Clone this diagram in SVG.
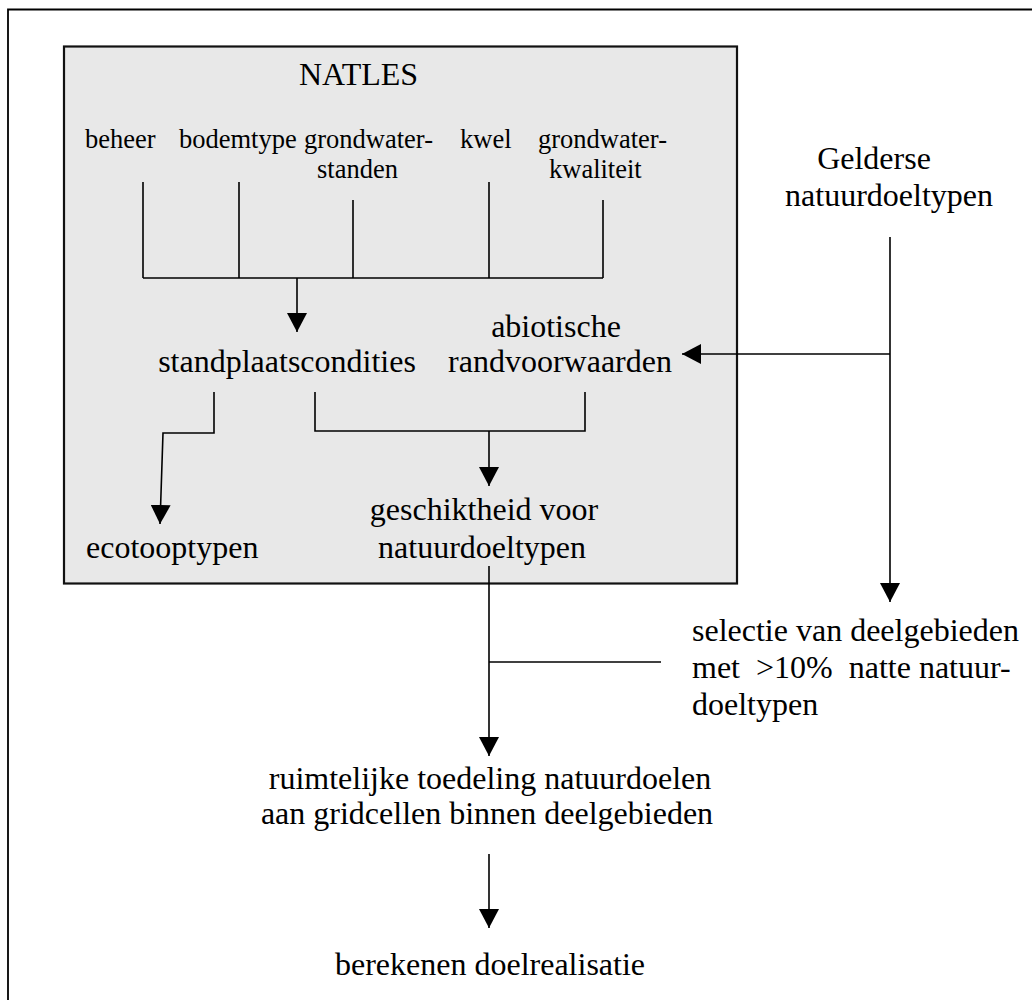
<svg xmlns="http://www.w3.org/2000/svg" width="1032" height="1000" viewBox="0 0 1032 1000">
<style>
text{font-family:"Liberation Serif","Times New Roman",serif;fill:#000;}
.big{font-size:32px;}
.sm{font-size:26.5px;}
.ln{fill:none;stroke:#000;stroke-width:1.6;}
</style>
<defs>
<marker id="ah" markerUnits="userSpaceOnUse" markerWidth="20" markerHeight="20" refX="19" refY="10" orient="auto">
<path d="M0,0 L19,10 L0,20 z" fill="#000"/>
</marker>
</defs>
<rect width="1032" height="1000" fill="#fff"/>
<g id="frame">
<path d="M8,1002 V9.5 H1034" fill="none" stroke="#000" stroke-width="1.8"/>
</g>
<g id="natles">
<rect x="64" y="46.5" width="673" height="537" fill="#e8e8e8" stroke="#111" stroke-width="2.2"/>
<text class="big" x="299" y="85">NATLES</text>
</g>
<g id="beheer"><text class="sm" x="85" y="148">beheer</text></g>
<g id="bodemtype"><text class="sm" x="179" y="148">bodemtype</text></g>
<g id="grondwaterstanden"><text class="sm" x="304" y="148">grondwater-</text><text class="sm" x="317" y="178">standen</text></g>
<g id="kwel"><text class="sm" x="460" y="148">kwel</text></g>
<g id="grondwaterkwaliteit"><text class="sm" x="538" y="148">grondwater-</text><text class="sm" x="549" y="178">kwaliteit</text></g>
<g id="standplaatscondities"><text class="big" x="287" y="372" text-anchor="middle">standplaatscondities</text></g>
<g id="abiotische"><text class="big" x="556" y="337" text-anchor="middle">abiotische</text><text class="big" x="560" y="372" text-anchor="middle">randvoorwaarden</text></g>
<g id="ecotooptypen"><text class="big" x="86" y="558">ecotooptypen</text></g>
<g id="geschiktheid"><text class="big" x="484" y="520" text-anchor="middle">geschiktheid voor</text><text class="big" x="482" y="558" text-anchor="middle">natuurdoeltypen</text></g>
<g id="gelderse"><text class="big" x="874" y="169" text-anchor="middle">Gelderse</text><text class="big" x="889" y="206" text-anchor="middle">natuurdoeltypen</text></g>
<g id="selectie"><text class="big" x="692" y="641">selectie van deelgebieden</text><text class="big" x="692" y="678" style="white-space:pre">met  &gt;10%  natte natuur-</text><text class="big" x="692" y="715">doeltypen</text></g>
<g id="ruimtelijke"><text class="big" x="490" y="789" text-anchor="middle">ruimtelijke toedeling natuurdoelen</text><text class="big" x="487" y="824" text-anchor="middle">aan gridcellen binnen deelgebieden</text></g>
<g id="berekenen"><text class="big" x="490" y="975" text-anchor="middle">berekenen doelrealisatie</text></g>
<g id="connectors">
<path class="ln" d="M143,182 V278 M239,182 V278 M353,200 V278 M489,182 V278 M603,200 V278 M143,278 H603"/>
<path class="ln" d="M297,278 V332" marker-end="url(#ah)"/>
<path class="ln" d="M890,354 H682" marker-end="url(#ah)"/>
<path class="ln" d="M890,237 V602" marker-end="url(#ah)"/>
<path class="ln" d="M214,392 V433 H163 L160,524" marker-end="url(#ah)"/>
<path class="ln" d="M315,392 V431 H585 V392"/>
<path class="ln" d="M489,431 V486" marker-end="url(#ah)"/>
<path class="ln" d="M489,566 V756" marker-end="url(#ah)"/>
<path class="ln" d="M489,662 H661"/>
<path class="ln" d="M489,854 V928" marker-end="url(#ah)"/>
</g>
</svg>
